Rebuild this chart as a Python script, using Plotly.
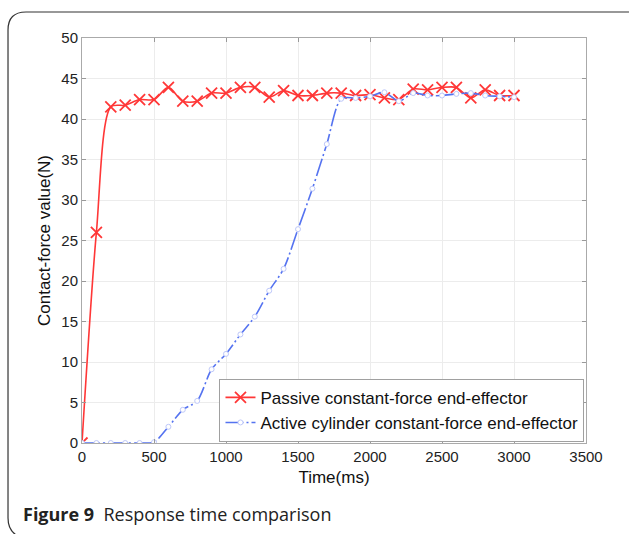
import plotly.graph_objects as go

time_passive = [0, 100, 200, 300, 400, 500, 600, 700, 800, 900, 1000, 1100, 1200, 1300, 1400, 1500,
                1600, 1700, 1800, 1900, 2000, 2100, 2200, 2300, 2400, 2500, 2600, 2700, 2800, 2900, 3000]
force_passive = [0, 26.0, 41.5, 41.7, 42.4, 42.4, 43.9, 42.2, 42.2, 43.2, 43.2, 43.9, 43.9, 42.7, 43.5, 42.9,
                 42.9, 43.2, 43.2, 42.9, 43.0, 42.6, 42.4, 43.7, 43.6, 43.9, 43.9, 42.6, 43.6, 42.9, 42.9]

time_active = [0, 100, 200, 300, 400, 500, 600, 700, 800, 900, 1000, 1100, 1200, 1300, 1400, 1500,
               1600, 1700, 1800, 1900, 2000, 2100, 2200, 2300, 2400, 2500, 2600, 2700, 2800, 2900, 3000]
force_active = [0, 0, 0, 0, 0, 0.1, 2.0, 4.1, 5.2, 9.1, 11.0, 13.4, 15.6, 18.8, 21.5, 26.4,
                31.4, 36.9, 42.5, 42.6, 42.8, 43.3, 42.2, 43.2, 42.9, 42.9, 43.1, 43.2, 42.9, 42.8, 42.7]

x_ticks = [0, 500, 1000, 1500, 2000, 2500, 3000, 3500]
y_ticks = [0, 5, 10, 15, 20, 25, 30, 35, 40, 45, 50]

RED = "rgb(255,55,55)"
BLUE = "rgb(85,115,240)"

fig = go.Figure()
fig.add_trace(go.Scatter(
    x=time_passive, y=force_passive, mode="lines+markers",
    name="Passive constant-force end-effector",
    line=dict(color=RED, width=1.6, shape="spline", smoothing=0.8),
    marker=dict(symbol="x-thin", size=11, line=dict(color=RED, width=1.8), color=RED),
    cliponaxis=True,
))
fig.add_trace(go.Scatter(
    x=time_active, y=force_active, mode="lines+markers",
    name="Active cylinder constant-force end-effector",
    line=dict(color=BLUE, width=1.6, shape="spline", smoothing=0.8, dash="18px,3px,2px,3px"),
    marker=dict(symbol="circle", size=5, color="white", line=dict(color="rgb(190,200,250)", width=1)),
    cliponaxis=True,
))

L, R, T, B = 82, 586, 38, 443
W, H = 629, 534


def px(xp):
    return (xp - L) / (R - L)


def py(yp):
    return (B - yp) / (B - T)


frame_path = (f"M {px(629):.4f},{py(12):.4f} L {px(26):.4f},{py(12):.4f} "
              f"Q {px(8):.4f},{py(12):.4f} {px(8):.4f},{py(30):.4f} "
              f"L {px(8):.4f},{py(518):.4f} Q {px(8):.4f},{py(531):.4f} {px(18):.4f},{py(536):.4f}")

fig.update_layout(
    width=W, height=H,
    margin=dict(l=L, r=W - R, t=T, b=H - B),
    paper_bgcolor="white", plot_bgcolor="white",
    font=dict(family="Liberation Sans, Arial, sans-serif", size=15, color="#222"),
    showlegend=True,
    legend=dict(x=0.997, y=0.003, xanchor="right", yanchor="bottom",
                bgcolor="white", bordercolor="#a0a0a0", borderwidth=1,
                font=dict(size=17, color="#111"), tracegroupgap=0,
                itemwidth=30),
    xaxis=dict(range=[0, 3500], tickvals=x_ticks, ticks="inside", ticklen=4, tickcolor="#999",
               showline=True, linecolor="#aaa", linewidth=1, mirror="ticks",
               showgrid=True, gridcolor="#ececec", gridwidth=1, zeroline=False,
               title=dict(text="Time(ms)", font=dict(size=17, color="#111"), standoff=7),
               tickfont=dict(size=15, color="#222")),
    yaxis=dict(range=[0, 50], tickvals=y_ticks, ticks="inside", ticklen=4, tickcolor="#999",
               showline=True, linecolor="#aaa", linewidth=1, mirror="ticks",
               showgrid=True, gridcolor="#ececec", gridwidth=1, zeroline=False,
               title=dict(text="Contact-force value(N)", font=dict(size=17, color="#111"), standoff=6),
               tickfont=dict(size=15, color="#222")),
    shapes=[dict(type="path", xref="paper", yref="paper", path=frame_path,
                 line=dict(color="#333", width=1.2))],
    annotations=[dict(xref="paper", yref="paper", x=px(21), y=py(514), xanchor="left", yanchor="middle",
                      showarrow=False,
                      text="<b>Figure 9</b>  Response time comparison",
                      font=dict(family="Open Sans, Noto Sans, sans-serif", size=18, color="#222"))],
)

fig.write_html("out.html")
